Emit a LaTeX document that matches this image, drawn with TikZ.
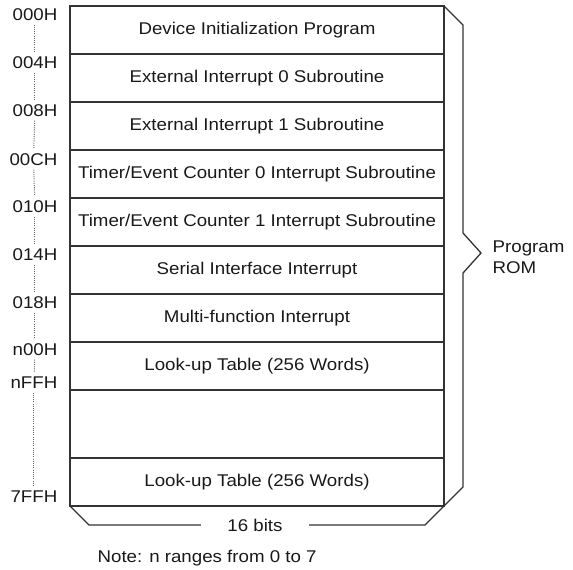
\documentclass[tikz,border=0pt]{standalone}
\usepackage{fontspec}
\setmainfont{Liberation Sans}[FakeStretch=1.1]
\usepackage{tikz}

\begin{document}
\begin{tikzpicture}[x=1pt,y=-1pt,line width=1.3pt,
                    font=\fontsize{17}{21}\selectfont,text=black!90,
                    addr/.style={anchor=east,inner sep=0pt},
                    lbl/.style={inner sep=0pt},
                    gap/.style={line width=1pt,black!60,dash pattern=on 1pt off 1.2pt,shorten <=3pt,shorten >=5pt},
                    frame/.style={draw=black!80}]
                      \useasboundingbox(0,0)rectangle(573,570);
                      % memory map
                      \draw[frame](70,6)rectangle(444,506);
                      \foreach \y in {54,102,150,198,246,294,342,390,458}
                        \draw[frame](70,\y)--(444,\y);
                      \node[lbl](r0)at(257,30){Device Initialization Program};
                      \node[lbl](r1)at(257,78){External Interrupt 0 Subroutine};
                      \node[lbl](r2)at(257,126){External Interrupt 1 Subroutine};
                      \node[lbl](r3)at(257,174){Timer/Event Counter 0 Interrupt Subroutine};
                      \node[lbl](r4)at(257,222){Timer/Event Counter 1 Interrupt Subroutine};
                      \node[lbl](r5)at(257,270){Serial Interface Interrupt};
                      \node[lbl](r6)at(257,318){Multi-function Interrupt};
                      \node[lbl](r7)at(257,366){Look-up Table (256 Words)};
                      \node[lbl](r8)at(257,482){Look-up Table (256 Words)};
                      % addresses
                      \node[addr](a0)at(58,15){000H};
                      \node[addr](a1)at(58,63){004H};
                      \node[addr](a2)at(58,111){008H};
                      \node[addr](a3)at(58,160){00CH};
                      \node[addr](a4)at(58,207){010H};
                      \node[addr](a5)at(58,255){014H};
                      \node[addr](a6)at(58,303){018H};
                      \node[addr](a7)at(58,350){n00H};
                      \node[addr](a8)at(58,383){nFFH};
                      \node[addr](a9)at(58,497){7FFH};
                      \draw[gap](a0)--(a1);
                      \draw[gap](a1)--(a2);
                      \draw[gap](a2)--(a3);
                      \draw[gap](a3)--(a4);
                      \draw[gap](a4)--(a5);
                      \draw[gap](a5)--(a6);
                      \draw[gap](a6)--(a7);
                      \draw[gap](a7)--(a8);
                      \draw[gap](a8)--(a9);
                      % braces
                      \draw[frame](444,6)--(463,25)--(463,233)--(481,253)--(463,273)--(463,487)--(444,506);
                      \node[lbl,anchor=west,align=left](rom)at(492,257){Program\\ROM};
                      \node[inner xsep=26pt,inner ysep=0pt](bits)at(255,525){16 bits};
                      \draw[frame](70,506)--(89,525)--(bits.west);
                      \draw[frame](bits.east)--(425,525)--(444,506);
                      \node[lbl,anchor=west](note)at(97,558){Note: n ranges from 0 to 7};
                  \end{tikzpicture}
\end{document}
